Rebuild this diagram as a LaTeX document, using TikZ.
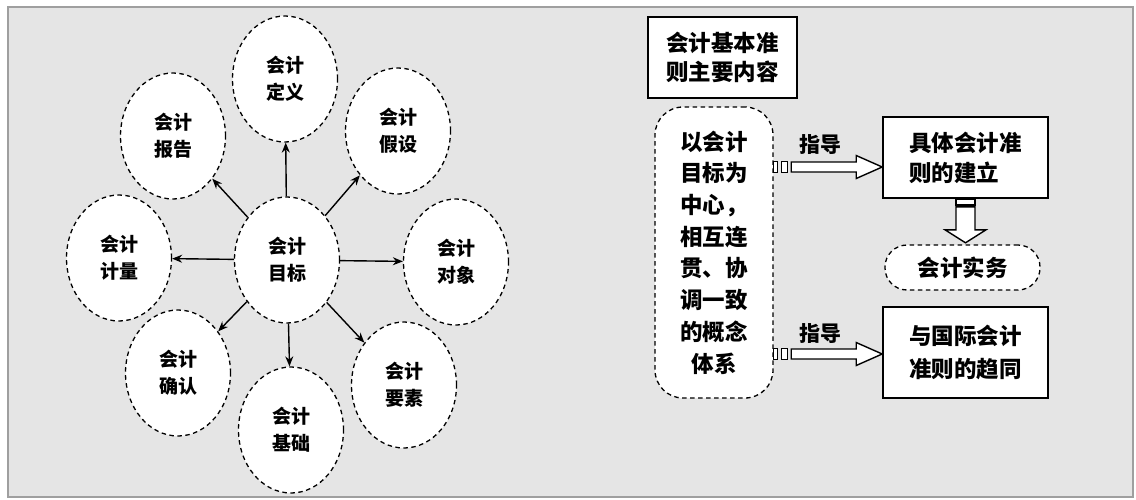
\documentclass[tikz,border=0pt]{standalone}
\usepackage{fontspec}
\newfontfamily\cjk{Noto Sans CJK SC}
\usetikzlibrary{shapes.geometric,arrows.meta}
\tikzset{
  goalnode/.style={ellipse,draw,dash pattern=on 4.5pt off 3.5pt,line width=1.3pt,fill=white,minimum width=105pt,minimum height=126pt,inner sep=0pt,align=center,font=\cjk\bfseries\fontsize{19}{27}\selectfont},
  goalarrow/.style={-{Stealth[length=10pt,width=8pt]},line width=1.4pt},
  solidbox/.style={draw,line width=1.6pt,fill=white,inner sep=0pt},
  dashbox/.style={draw,dash pattern=on 4.5pt off 3.5pt,line width=1.3pt,fill=white,inner sep=0pt,align=center},
  hollow/.style={draw,line width=1.4pt,fill=white,line join=miter},
  guide/.style={font=\cjk\bfseries\fontsize{21}{21}\selectfont}
}
\begin{document}
\begin{tikzpicture}[x=1pt,y=-1pt]
\fill[white](0,0) rectangle (1136,499);
\draw[gray!75,line width=2.5pt,fill=gray!20](8,7) rectangle (1133,497);
\node[goalnode](goal) at (287,260) {会计\\目标};
\node[goalnode](def) at (285,79) {会计\\定义};
\node[goalnode](rep) at (173,136) {会计\\报告};
\node[goalnode](hyp) at (398,131) {会计\\假设};
\node[goalnode](meas) at (119,258) {会计\\计量};
\node[goalnode](obj) at (456,262) {会计\\对象};
\node[goalnode](recog) at (178,373) {会计\\确认};
\node[goalnode](basis) at (291,430) {会计\\基础};
\node[goalnode](elem) at (404,385) {会计\\要素};
\foreach \t in {def,rep,hyp,meas,obj,recog,basis,elem}
  \draw[goalarrow](goal)--(\t);
\node[solidbox,minimum width=149pt,minimum height=81pt,align=center,font=\cjk\bfseries\fontsize{22.5}{29}\selectfont](title) at (722.5,57.5) {会计基本准\\则主要内容};
\node[dashbox,rounded corners=28pt,minimum width=118pt,minimum height=291pt,font=\cjk\bfseries\fontsize{22.5}{31.7}\selectfont](concept) at (714,252.5) {以会计\\目标为\\中心，\\相互连\\贯、协\\调一致\\的概念\\体系};
\node[solidbox,minimum width=165pt,minimum height=81pt,align=left,font=\cjk\bfseries\fontsize{22.5}{30}\selectfont](std) at (965.5,157.5) {具体会计准\\则的建立};
\node[dashbox,rounded corners=22pt,minimum width=155pt,minimum height=45pt,font=\cjk\bfseries\fontsize{22.5}{30}\selectfont](prac) at (962.5,267.5) {会计实务};
\node[solidbox,minimum width=165pt,minimum height=91pt,align=left,font=\cjk\bfseries\fontsize{22.5}{33}\selectfont](intl) at (965.5,352.5) {与国际会计\\准则的趋同};
\node[guide](g1) at (820,145) {指导};
\node[guide](g2) at (820,334) {指导};
\coordinate(tip1) at ([yshift=-9.5pt]std.west);
\coordinate(tip2) at ([yshift=-1.5pt]intl.west);
\foreach \p in {tip1,tip2}{
  \draw[hollow](\p) -- ++(-26,-11.5) -- ++(0,6.5) -- ++(-65,0) -- ++(0,10) -- ++(65,0) -- ++(0,6.5) -- cycle;
  \draw[hollow]([shift={(-109,-5.5)}]\p) rectangle ++(4,11) ([shift={(-101,-5.5)}]\p) rectangle ++(6,11);
}
\draw[hollow]([shift={(-9.5,0)}]std.south) rectangle ++(19,6);
\draw[hollow]([shift={(-9.5,8)}]std.south) -- ++(0,23) -- ++(-11,0) -- ++(20.5,13) -- ++(20.5,-13) -- ++(-11,0) -- ++(0,-23) -- cycle;
\end{tikzpicture}
\end{document}
